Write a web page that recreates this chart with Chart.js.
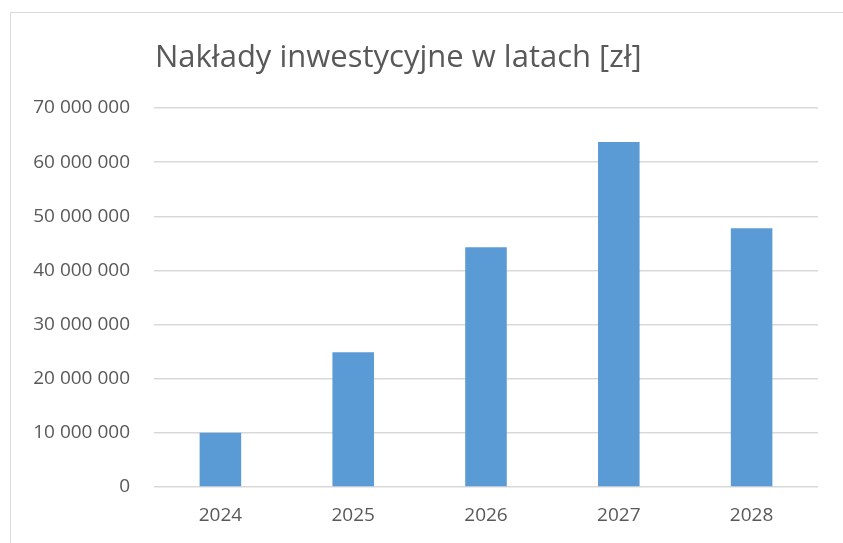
<!DOCTYPE html>
<html>
<head>
<meta charset="utf-8">
<script src="https://cdn.jsdelivr.net/npm/chart.js@4/dist/chart.umd.min.js"></script>
<style>
  body { margin:0; background:#fff; overflow:hidden; }
  #ramka { position:absolute; left:10px; top:12px; width:900px; height:600px; border:1px solid #d9d9d9; }
  #box { position:absolute; left:0; top:0; width:843px; height:543px; }
</style>
</head>
<body>
<div id="ramka"></div>
<div id="box"><canvas id="wykres"></canvas></div>
<script>
// dane z wykresu
const lata = ['2024', '2025', '2026', '2027', '2028'];
const naklady = [10000000, 24900000, 44300000, 63700000, 47800000];
const tytul = 'Nakłady inwestycyjne w latach [zł]';

const fmt = v => String(v).replace(/\B(?=(\d{3})+(?!\d))/g, ' ');

// tytuł wyrównany do lewej krawędzi obszaru wykresu
const tytulPlugin = {
  id: 'tytul',
  afterDraw(chart) {
    const c = chart.ctx;
    c.save();
    c.font = '31px "Open Sans"';
    c.fillStyle = '#595959';
    c.textBaseline = 'alphabetic';
    c.fillText(tytul, chart.chartArea.left + 1, 67);
    c.restore();
  }
};

new Chart(document.getElementById('wykres'), {
  type: 'bar',
  data: {
    labels: lata,
    datasets: [{ data: naklady, backgroundColor: '#5b9bd5', borderWidth: 0, barPercentage: 1, categoryPercentage: 0.313 }]
  },
  options: {
    responsive: true, maintainAspectRatio: false, animation: false,
    layout: { padding: { top: 108, right: 25, bottom: 0, left: 0 } },
    plugins: { legend: { display: false }, tooltip: { enabled: false } },
    scales: {
      x: {
        grid: { display: false, drawTicks: false },
        border: { display: false },
        ticks: { color: '#595959', font: { family: 'Open Sans', size: 19 }, padding: 17 },
        afterFit: s => { s.height = 56; }
      },
      y: {
        min: 0, max: 70000000,
        grid: { color: '#d9d9d9', lineWidth: 1.5, drawTicks: false },
        border: { display: false },
        ticks: { stepSize: 10000000, color: '#595959', font: { family: 'Open Sans', size: 19 }, padding: 24, callback: v => fmt(v) },
        afterFit: s => { s.width = 154; }
      }
    }
  },
  plugins: [tytulPlugin]
});
</script>
</body>
</html>
